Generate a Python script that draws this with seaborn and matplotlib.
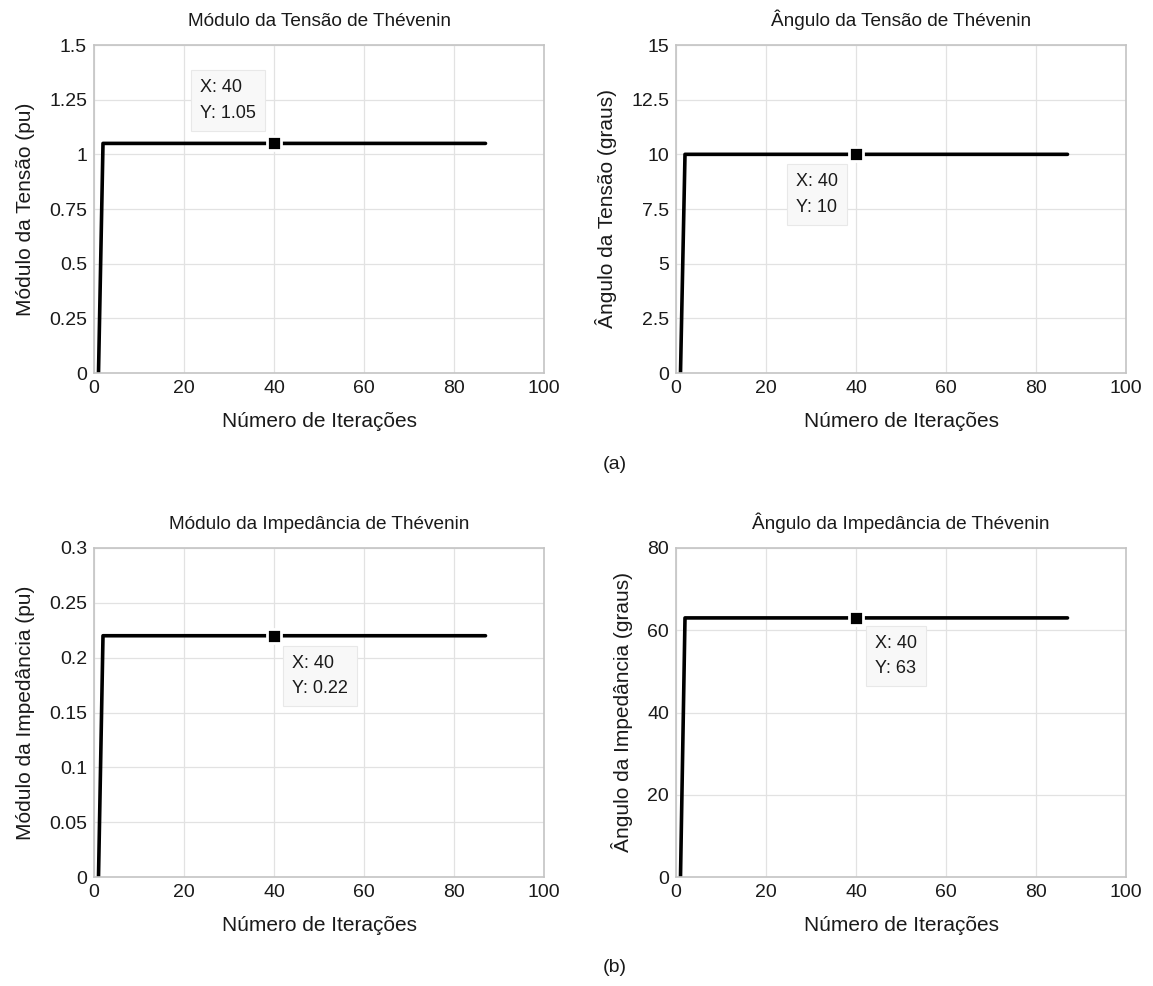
import matplotlib
matplotlib.use("Agg")
import matplotlib.pyplot as plt
import seaborn as sns
import pandas as pd

# Convergence of the Thévenin equivalent estimates (break points of each curve)
iteracoes = [1, 2, 40, 87]
modulo_tensao = [0.0, 1.05, 1.05, 1.05]
angulo_tensao = [0.0, 10.0, 10.0, 10.0]
modulo_impedancia = [0.0, 0.22, 0.22, 0.22]
angulo_impedancia = [0.0, 63.0, 63.0, 63.0]

# Data tip: iteration highlighted on every curve
ponto_x = 40
ponto_y = [1.05, 10, 0.22, 63]
ponto_txt = ["1.05", "10", "0.22", "63"]

titulos = [
    "Módulo da Tensão de Thévenin",
    "Ângulo da Tensão de Thévenin",
    "Módulo da Impedância de Thévenin",
    "Ângulo da Impedância de Thévenin",
]
rotulos_y = [
    "Módulo da Tensão (pu)",
    "Ângulo da Tensão (graus)",
    "Módulo da Impedância (pu)",
    "Ângulo da Impedância (graus)",
]
ticks_y = [
    [0, 0.25, 0.5, 0.75, 1, 1.25, 1.5],
    [0, 2.5, 5, 7.5, 10, 12.5, 15],
    [0, 0.05, 0.1, 0.15, 0.2, 0.25, 0.3],
    [0, 20, 40, 60, 80],
]
rotulos_ticks_y = [
    ["0", "0.25", "0.5", "0.75", "1", "1.25", "1.5"],
    ["0", "2.5", "5", "7.5", "10", "12.5", "15"],
    ["0", "0.05", "0.1", "0.15", "0.2", "0.25", "0.3"],
    ["0", "20", "40", "60", "80"],
]
ticks_x = [0, 20, 40, 60, 80, 100]
rotulo_x = "Número de Iterações"

series = [modulo_tensao, angulo_tensao, modulo_impedancia, angulo_impedancia]
# offsets (pixels) of the data-tip text relative to the highlighted point
offsets = [(-74, 64), (-60, -19), (18, -19), (19, -17)]

sns.set_theme(style="whitegrid")
plt.rcParams["font.family"] = ["Liberation Sans", "DejaVu Sans"]
plt.rcParams["axes.edgecolor"] = "#c4c4c4"
plt.rcParams["grid.color"] = "#e2e2e2"

fig = plt.figure(figsize=(11.53, 9.86), dpi=100)
W, H = 1153, 986
posicoes = [
    (94, 45, 450, 328),
    (676, 45, 450, 328),
    (94, 548, 450, 329),
    (676, 548, 450, 329),
]

for i in range(4):
    x0, y0, w, h = posicoes[i]
    ax = fig.add_axes([x0 / W, 1 - (y0 + h) / H, w / W, h / H])
    df = pd.DataFrame({"it": iteracoes, "v": series[i]})
    sns.lineplot(data=df, x="it", y="v", ax=ax, color="black", linewidth=2.6)
    ax.plot([ponto_x], [ponto_y[i]], marker="s", markersize=10.5,
            markerfacecolor="black", markeredgecolor="white",
            markeredgewidth=2, linestyle="none", zorder=5)
    dx, dy = offsets[i]
    ax.annotate(f"X: {ponto_x}\nY: {ponto_txt[i]}", xy=(ponto_x, ponto_y[i]),
                xytext=(dx, dy), textcoords="offset pixels",
                ha="left", va="top", fontsize=13, color="#1a1a1a",
                linespacing=1.65,
                bbox=dict(boxstyle="square,pad=0.5", facecolor="#f8f8f8",
                          edgecolor="#e8e8e8", linewidth=0.8), zorder=6)
    ax.set_xlim(0, 100)
    ax.set_ylim(ticks_y[i][0], ticks_y[i][-1])
    ax.set_xticks(ticks_x)
    ax.set_xticklabels([str(t) for t in ticks_x])
    ax.set_yticks(ticks_y[i])
    ax.set_yticklabels(rotulos_ticks_y[i])
    ax.tick_params(axis="both", labelsize=14, colors="#1a1a1a", length=0, pad=5)
    ax.set_title(titulos[i], fontsize=13.7, color="#1a1a1a", pad=14)
    ax.set_xlabel(rotulo_x, fontsize=15, color="#1a1a1a", labelpad=11)
    ax.set_ylabel(rotulos_y[i], fontsize=15, color="#1a1a1a", labelpad=10)
    ax.grid(True, linewidth=0.9)
    for s in ax.spines.values():
        s.set_linewidth(1.2)
        s.set_color("#c4c4c4")

fig.text(615 / W, 1 - 465 / H, "(a)", ha="center", va="center", fontsize=14, color="#1a1a1a")
fig.text(615 / W, 1 - 967 / H, "(b)", ha="center", va="center", fontsize=14, color="#1a1a1a")

fig.savefig("out.png", dpi=100, facecolor="white")
